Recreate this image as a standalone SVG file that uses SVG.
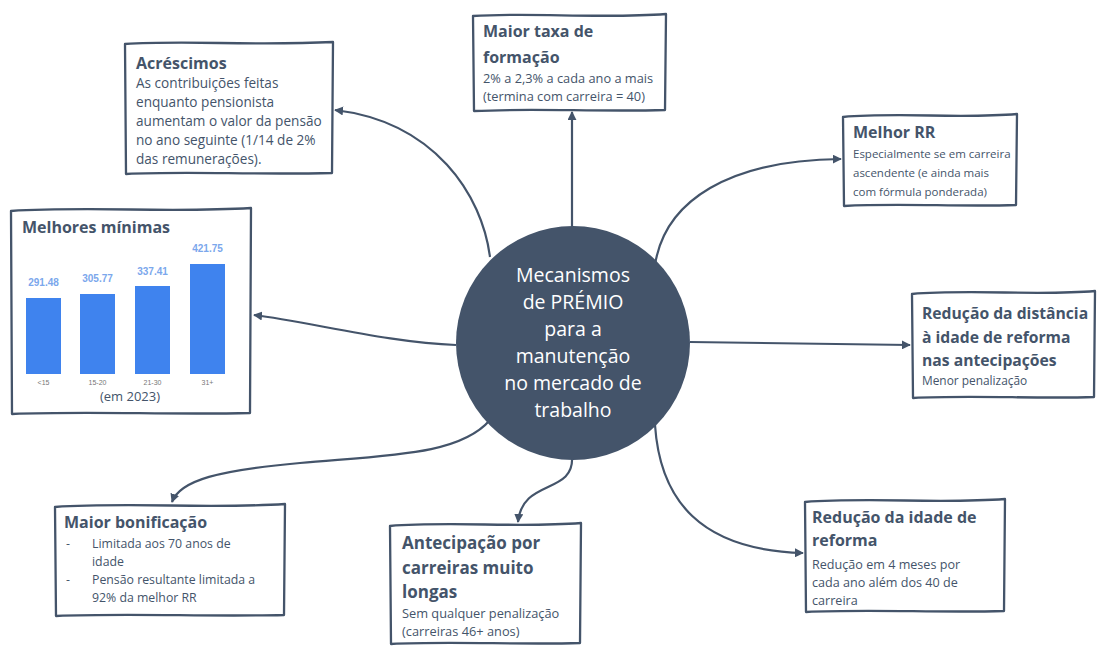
<svg xmlns="http://www.w3.org/2000/svg" width="1105" height="646" viewBox="0 0 1105 646">
<defs>
<marker id="arr" viewBox="0 0 10 10" refX="9" refY="5" markerWidth="9" markerHeight="9" markerUnits="userSpaceOnUse" orient="auto">
<path d="M0,0 L10,5 L0,10 Z" fill="#44546a"/>
</marker>
<style>
.box{fill:#ffffff;stroke:#44546a;stroke-width:2.3;stroke-linejoin:round}
.conn{fill:none;stroke:#44546a;stroke-width:2.2;marker-end:url(#arr)}
text{font-family:"Open Sans","Liberation Sans",sans-serif;fill:#44546a}
.t{font-weight:bold;font-size:16px}
.b{font-size:12px}
.c{fill:#ffffff;font-size:19.5px;text-anchor:middle}
.v{fill:#7ba7ec;font-size:10px;font-weight:bold;text-anchor:middle;font-family:"Liberation Sans",sans-serif}
.x{fill:#777777;font-size:7px;text-anchor:middle;font-family:"Liberation Sans",sans-serif}
.bar{fill:#3f83ee}
</style>
</defs>
<rect width="1105" height="646" fill="#ffffff"/>

<g id="connectors">
<path class="conn" d="M490,257 C482,195 435,122 335,110"/>
<path class="conn" d="M572,228 L572,112"/>
<path class="conn" d="M655,265 C665,200 730,160 841,159"/>
<path class="conn" d="M456,345 C390,343 310,322 254,315"/>
<path class="conn" d="M690,342 L910,345"/>
<path class="conn" d="M490,420 C460,455 390,455 300,463 C220,470 180,480 172,502"/>
<path class="conn" d="M572,456 C575,495 522,478 518,522"/>
<path class="conn" d="M655,425 C660,500 700,550 803,553"/>
</g>

<g id="center">
<circle cx="573" cy="343" r="117" fill="#44546a"/>
<text class="c" x="573" y="282">Mecanismos</text>
<text class="c" x="573" y="309">de PRÉMIO</text>
<text class="c" x="573" y="336">para a</text>
<text class="c" x="573" y="363">manutenção</text>
<text class="c" x="573" y="390">no mercado de</text>
<text class="c" x="573" y="417">trabalho</text>
</g>

<g id="acrescimos">
<path class="box" d="M125,44 C187,40 250,46 333,42 L332,173 C250,175 190,171 126,174 Z"/>
<text class="t" x="136" y="69">Acréscimos</text>
<text class="b" x="136" y="88" style="font-size:13.6px">As contribuições feitas</text>
<text class="b" x="136" y="107" style="font-size:13.6px">enquanto pensionista</text>
<text class="b" x="136" y="126" style="font-size:13.6px">aumentam o valor da pensão</text>
<text class="b" x="136" y="145" style="font-size:13.6px">no ano seguinte (1/14 de 2%</text>
<text class="b" x="136" y="164" style="font-size:13.6px">das remunerações).</text>
</g>

<g id="taxa">
<path class="box" d="M473,16 C530,12 600,19 666,14 L665,110 C600,112 530,108 474,111 Z"/>
<text class="t" x="483" y="37">Maior taxa de</text>
<text class="t" x="483" y="63">formação</text>
<text class="b" x="483" y="83" style="font-size:12.8px">2% a 2,3% a cada ano a mais</text>
<text class="b" x="483" y="101" style="font-size:12.8px">(termina com carreira = 40)</text>
</g>

<g id="melhor-rr">
<path class="box" d="M843,117 C900,112 960,119 1017,114 L1016,205 C960,207 900,203 844,206 Z"/>
<text class="t" x="853" y="138">Melhor RR</text>
<text class="b" x="853" y="158" style="font-size:11.5px">Especialmente se em carreira</text>
<text class="b" x="853" y="177" style="font-size:11.5px">ascendente (e ainda mais</text>
<text class="b" x="853" y="196" style="font-size:11.5px">com fórmula ponderada)</text>
</g>

<g id="minimas">
<path class="box" d="M11,211 C90,206 170,213 251,208 L250,413 C170,415 90,411 12,414 Z"/>
<text class="t" x="22" y="233">Melhores mínimas</text>
<rect class="bar" x="26" y="298" width="35" height="76"/>
<rect class="bar" x="80" y="294" width="35" height="80"/>
<rect class="bar" x="135" y="286" width="35" height="88"/>
<rect class="bar" x="190" y="264" width="35" height="110"/>
<text class="v" x="43.5" y="286">291.48</text>
<text class="v" x="97.5" y="282">305.77</text>
<text class="v" x="152.5" y="275">337.41</text>
<text class="v" x="207.5" y="252">421.75</text>
<text class="x" x="43.5" y="385">&lt;15</text>
<text class="x" x="97.5" y="385">15-20</text>
<text class="x" x="152.5" y="385">21-30</text>
<text class="x" x="207.5" y="385">31+</text>
<text class="b" x="130" y="401" style="font-size:13px;text-anchor:middle">(em 2023)</text>
</g>

<g id="distancia">
<path class="box" d="M912,294 C970,289 1040,296 1095,291 L1094,397 C1040,399 970,395 913,398 Z"/>
<text class="t" x="922" y="319" style="font-size:15.7px">Redução da distância</text>
<text class="t" x="922" y="343" style="font-size:15.7px">à idade de reforma</text>
<text class="t" x="922" y="366" style="font-size:15.7px">nas antecipações</text>
<text class="b" x="922" y="385" style="font-size:11.9px">Menor penalização</text>
</g>

<g id="bonificacao">
<path class="box" d="M55,507 C130,502 210,509 285,504 L284,615 C210,617 130,613 56,616 Z"/>
<text class="t" x="64" y="528">Maior bonificação</text>
<text class="b" x="66" y="548" style="font-size:12.3px">-</text>
<text class="b" x="92" y="548" style="font-size:12.3px">Limitada aos 70 anos de</text>
<text class="b" x="92" y="566" style="font-size:12.3px">idade</text>
<text class="b" x="66" y="584" style="font-size:12.3px">-</text>
<text class="b" x="92" y="584" style="font-size:12.3px">Pensão resultante limitada a</text>
<text class="b" x="92" y="602" style="font-size:12.3px">92% da melhor RR</text>
</g>

<g id="antecipacao">
<path class="box" d="M390,526 C450,521 520,528 581,523 L580,643 C520,645 450,641 391,644 Z"/>
<text class="t" x="402" y="549" style="font-size:17px">Antecipação por</text>
<text class="t" x="402" y="574" style="font-size:17px">carreiras muito</text>
<text class="t" x="402" y="598" style="font-size:17px">longas</text>
<text class="b" x="402" y="618" style="font-size:12.8px">Sem qualquer penalização</text>
<text class="b" x="402" y="636" style="font-size:12.8px">(carreiras 46+ anos)</text>
</g>

<g id="idade">
<path class="box" d="M805,502 C870,497 940,504 1005,499 L1004,611 C940,613 870,609 806,612 Z"/>
<text class="t" x="812" y="523">Redução da idade de</text>
<text class="t" x="812" y="546">reforma</text>
<text class="b" x="812" y="569" style="font-size:12.6px">Redução em 4 meses por</text>
<text class="b" x="812" y="587" style="font-size:12.6px">cada ano além dos 40 de</text>
<text class="b" x="812" y="605" style="font-size:12.6px">carreira</text>
</g>
</svg>
